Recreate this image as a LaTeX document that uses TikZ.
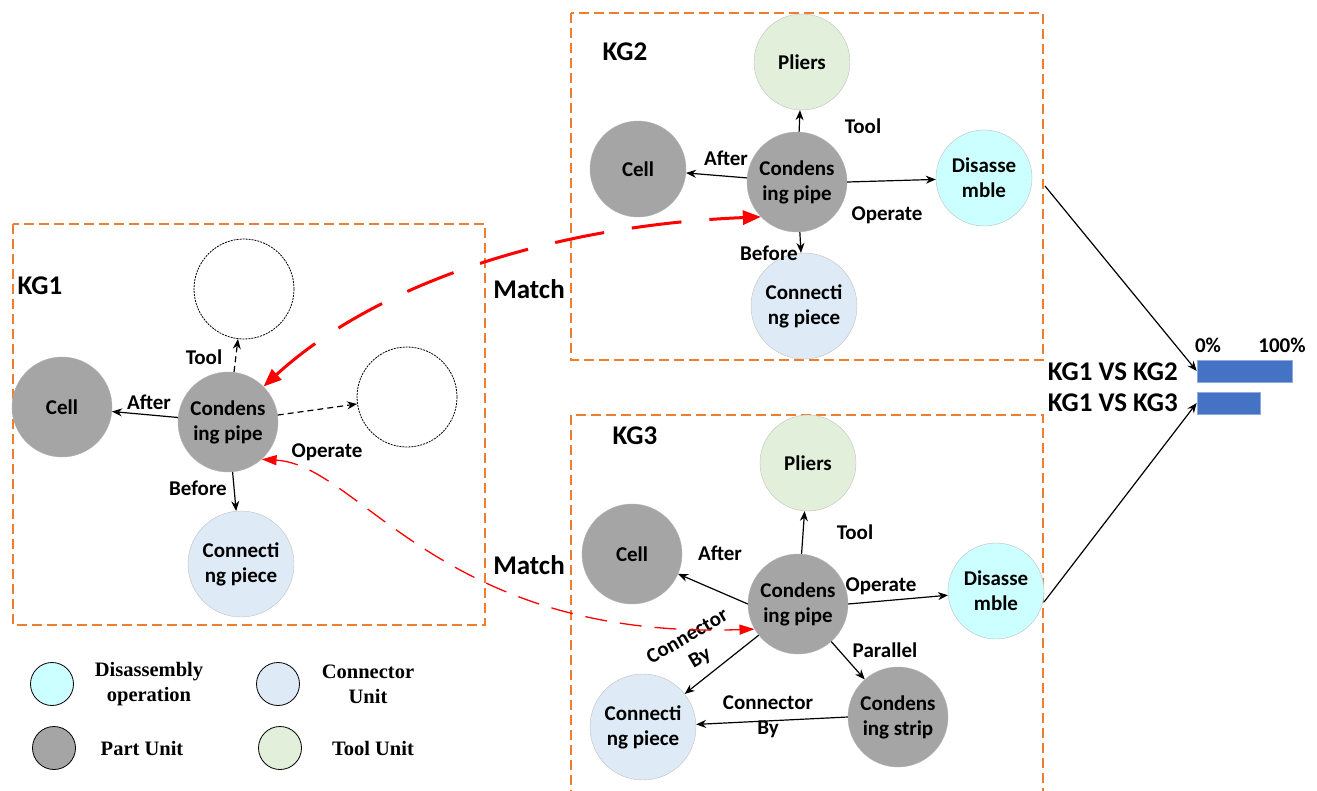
\documentclass[tikz,border=0pt]{standalone}
\usepackage{fontspec}
\setmainfont{Carlito}
\newfontfamily\legendfont{Liberation Serif}
\usetikzlibrary{arrows.meta}

\definecolor{partgray}{HTML}{A5A5A5}
\definecolor{connblue}{HTML}{DEEBF7}
\definecolor{opcyan}{HTML}{CCFFFF}
\definecolor{toolgreen}{HTML}{E2EFDA}
\definecolor{boxorange}{HTML}{ED7D31}
\definecolor{barblue}{HTML}{4472C4}
\definecolor{matchred}{HTML}{FF0000}

\tikzset{
  unit/.style={circle, inner sep=0pt, align=center, minimum size=100pt,
    font=\fontsize{21}{25}\selectfont\bfseries},
  part/.style={unit, fill=partgray, draw=partgray!85!white},
  conn/.style={unit, fill=connblue, draw=black!25, minimum size=106pt},
  oper/.style={unit, fill=opcyan, draw=black!25, minimum size=96pt},
  tool/.style={unit, fill=toolgreen, draw=black!25, minimum size=96pt},
  blank/.style={unit, draw=black, line width=0.8pt, dash pattern=on 2pt off 1pt},
  rel/.style={-{Stealth[length=10pt,width=8pt]}, line width=1.2pt, black},
  relopen/.style={rel, dash pattern=on 6pt off 4pt},
  lbl/.style={inner sep=1pt, align=center, font=\fontsize{21}{25}\selectfont\bfseries},
  title/.style={inner sep=1pt, font=\fontsize{27}{30}\selectfont\bfseries},
  frame/.style={draw=boxorange, line width=1.3pt, dash pattern=on 10pt off 5pt},
  matchthick/.style={matchred, line width=3pt, dash pattern=on 50pt off 28pt,
    {Triangle[length=18pt,width=14pt]}-{Triangle[length=18pt,width=14pt]}},
  matchthin/.style={matchred, line width=1.3pt, dash pattern=on 22pt off 13pt,
    {Triangle[length=15pt,width=10pt]}-{Triangle[length=15pt,width=10pt]}},
  bar/.style={fill=barblue, draw=barblue!60!white, line width=0.6pt, inner sep=0pt, minimum height=22pt},
  key/.style={circle, draw=black, line width=0.8pt, minimum size=43pt, inner sep=0pt},
  keytext/.style={inner sep=1pt, align=center, font=\fontsize{20.5}{25}\selectfont\legendfont\bfseries},
}

\begin{document}
\begin{tikzpicture}[x=1pt,y=-1pt]
\useasboundingbox (0,0) rectangle (1317,790);
\clip (0,0) rectangle (1317,790);

% group frames
\draw[frame] (13,224) rectangle (485,625);
\draw[frame] (571,13) rectangle (1043,360);
\draw[frame] (571,800) -- (571,415) -- (1043,415) -- (1043,800);

\node[title] (t1) at (40,286) {KG1};
\node[title] (t2) at (625,52) {KG2};
\node[title] (t3) at (635,436) {KG3};

% ---------- KG1 ----------
\node[part] (k1cell) at (62,407) {Cell};
\node[part] (k1pipe) at (228,422) {Condens\\ing pipe};
\node[blank] (k1tool) at (244,289) {};
\node[blank] (k1op) at (407,397) {};
\node[conn] (k1conn) at (241,564) {Connecti\\ng piece};

\draw[rel] (k1pipe) -- (k1cell);
\draw[relopen] (k1pipe) -- (k1tool);
\draw[relopen] (k1pipe) -- (k1op);
\draw[rel] (k1pipe) -- (k1conn);

\node[lbl] (l1after) at (149,402) {After};
\node[lbl] (l1tool) at (204,357) {Tool};
\node[lbl] (l1op) at (327,452) {Operate};
\node[lbl] (l1before) at (198,488) {Before};

% ---------- KG2 ----------
\node[tool] (k2pliers) at (802,62) {Pliers};
\node[part, minimum size=96pt] (k2cell) at (638,169) {Cell};
\node[part] (k2pipe) at (797,182) {Condens\\ing pipe};
\node[oper] (k2dis) at (984,178) {Disasse\\mble};
\node[conn] (k2conn) at (804,306) {Connecti\\ng piece};

\draw[rel] (k2pipe) -- (k2pliers);
\draw[rel] (k2pipe) -- (k2cell);
\draw[rel] (k2pipe.east) -- (k2dis);
\draw[rel] (k2pipe) -- (k2conn);

\node[lbl] (l2tool) at (863,126) {Tool};
\node[lbl] (l2after) at (726,158) {After};
\node[lbl] (l2op) at (887,215) {Operate};
\node[lbl] (l2before) at (769,253) {Before};

% ---------- KG3 ----------
\node[tool] (k3pliers) at (808,463) {Pliers};
\node[part] (k3cell) at (632,554) {Cell};
\node[part] (k3pipe) at (798,604) {Condens\\ing pipe};
\node[oper] (k3dis) at (996,591) {Disasse\\mble};
\node[part] (k3strip) at (898,717) {Condens\\ing strip};
\node[conn] (k3conn) at (643,727) {Connecti\\ng piece};

\draw[rel] (k3pipe) -- (k3pliers);
\draw[rel] (k3pipe.west) -- (k3cell);
\draw[rel] (k3pipe.east) -- (k3dis);
\draw[rel] (k3pipe) -- (k3strip);
\draw[rel] (k3pipe) -- (k3conn);
\draw[rel] (k3strip.west) -- (k3conn);

\node[lbl] (l3tool) at (855,532) {Tool};
\node[lbl] (l3after) at (720,553) {After};
\node[lbl] (l3op) at (881,586) {Operate};
\node[lbl] (l3par) at (885,650) {Parallel};
\node[lbl, rotate=30] (l3by1) at (694,648) {Connector\\By};
\node[lbl] (l3by2) at (768,717) {Connector\\By};

% ---------- matching links ----------
\draw[matchthick] (k1pipe.45) .. controls (380,280) and (560,225) .. (k2pipe.224);
\draw[matchthin] (k1pipe.312) .. controls (360,465) and (440,640) .. (k3pipe.210);

\node[title] (m1) at (529,289) {Match};
\node[title] (m2) at (529,565) {Match};

% ---------- similarity bars ----------
\node[bar, minimum width=95pt] (bar12) at (1244.5,371) {};
\node[bar, minimum width=63pt] (bar13) at (1228.5,403) {};
\node[lbl] (p0) at (1208,345) {0\%};
\node[lbl] (p100) at (1282,345) {100\%};
\node[title, anchor=east] (v12) at (1179,372) {KG1 VS KG2};
\node[title, anchor=east] (v13) at (1179,403) {KG1 VS KG3};

\coordinate (o2) at (1045,186);
\coordinate (o3) at (1044,602);
\draw[rel] (o2) -- (bar12.west);
\draw[rel] (o3) -- (bar13.west);

% ---------- key ----------
\node[key, fill=opcyan] (kc1) at (52,684) {};
\node[key, fill=partgray] (kc2) at (54,748) {};
\node[key, fill=connblue] (kc3) at (278,684) {};
\node[key, fill=toolgreen] (kc4) at (280,748) {};
\node[keytext] (kt1) at (149,684) {Disassembly\\operation};
\node[keytext] (kt2) at (142,748) {Part Unit};
\node[keytext] (kt3) at (368,684) {Connector\\Unit};
\node[keytext] (kt4) at (373,748) {Tool Unit};
\end{tikzpicture}
\end{document}
